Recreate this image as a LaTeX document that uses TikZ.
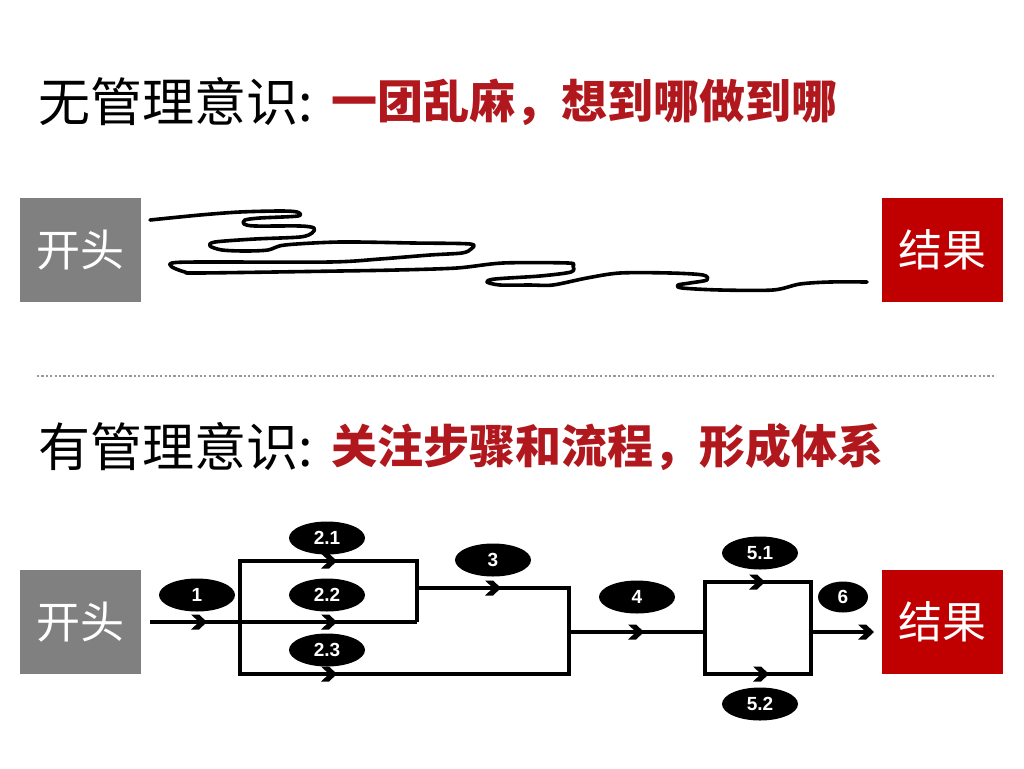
\documentclass[tikz,border=0pt]{standalone}
\usepackage{fontspec}
\setmainfont{Liberation Sans}
\newfontfamily\cjk{Noto Sans CJK SC}
\usetikzlibrary{shapes.geometric}
\definecolor{titlered}{HTML}{B0181E}
\definecolor{boxred}{HTML}{C00000}
\definecolor{boxgray}{HTML}{808080}
\tikzset{
  endbox/.style={rectangle, minimum width=121pt, minimum height=104pt, inner sep=0pt,
    text=white, font=\cjk\fontsize{44}{44}\selectfont},
  titleblack/.style={anchor=west, inner sep=0pt, text=black, font=\cjk\fontsize{52}{52}\selectfont},
  titlered/.style={anchor=west, inner sep=0pt, text=titlered, font=\cjk\bfseries\fontsize{46}{46}\selectfont},
  scribble/.style={line width=3.6pt, line cap=round, line join=round, black},
  flow/.style={line width=3.4pt, line join=miter, black},
  lab/.style={ellipse, fill=black, text=white, inner sep=0pt, minimum width=76pt,
    minimum height=33pt, font=\bfseries\fontsize{19}{19}\selectfont},
  chev/.pic={\fill[black] (1,0) -- (-7,-7.5) -- (-15,-7.5) -- (-7,0) -- (-15,7.5) -- (-7,7.5) -- cycle;}
}
\begin{document}
\begin{tikzpicture}[x=1pt,y=-1pt]
\useasboundingbox (0,0) rectangle (1024,768);
\fill[white] (0,0) rectangle (1024,768);

% ---------- top section ----------
\node[titleblack] (t1) at (38,102) {无管理意识:};
\node[titlered] (t1r) at (331,102) {一团乱麻，想到哪做到哪};

\node[endbox, fill=boxgray] (start1) at (80.5,250) {开头};
\node[endbox, fill=boxred] (end1) at (942.5,250) {结果};

\draw[scribble] plot[smooth, tension=0.5] coordinates {
(150,220) (200,215) (240,212) (280,211) (297,212) (298,216) (260,218) (245,220)
(244,224) (255,226) (300,226) (314,228) (312,233) (300,237) (255,239) (215,242)
(210,246) (222,250) (245,251) (268,250) (285,245) (340,242) (413,243) (470,244)
(471,249) (462,253) (430,255) (380,259) (330,262) (200,262) (172,263) (172,267)
(185,272) (200,273) (340,271) (397,270) (457,268) (503,263) (568,263) (573,266)
(571,272) (540,276) (495,279) (487,282) (500,285) (530,285) (553,285) (587,278)
(620,273) (670,273) (703,275) (707,280) (690,283) (678,285) (682,288) (720,290)
(773,290) (800,284) (830,282) (867,282)};

% ---------- separator ----------
\draw[gray!80, line width=1.8pt, dash pattern=on 2.2pt off 2.2pt] (37,376) -- (996,376);

% ---------- bottom section ----------
\node[titleblack] (t2) at (38,447) {有管理意识:};
\node[titlered] (t2r) at (331,447) {关注步骤和流程，形成体系};

\node[endbox, fill=boxgray] (start2) at (80.5,622) {开头};
\node[endbox, fill=boxred] (end2) at (942.5,622) {结果};

% junction coordinates
\coordinate (s) at (150,622);
\coordinate (a) at (240,622);
\coordinate (atop) at (240,561);
\coordinate (abot) at (240,674);
\coordinate (btop) at (417,561);
\coordinate (b) at (417,622);
\coordinate (bmid) at (417,588);
\coordinate (ctop) at (569,588);
\coordinate (c) at (569,632);
\coordinate (cbot) at (569,674);
\coordinate (d) at (705,632);
\coordinate (dtop) at (705,582);
\coordinate (dbot) at (705,674);
\coordinate (e) at (811,632);
\coordinate (etop) at (811,582);
\coordinate (ebot) at (811,674);
\coordinate (f) at (866,632);

\draw[flow] (s) -- (b);
\draw[flow] (a) -- (atop) -- (btop) -- (b);
\draw[flow] (a) -- (abot) -- (cbot) -- (ctop) -- (bmid);
\draw[flow] (c) -- (d);
\draw[flow] (d) -- (dtop) -- (etop) -- (ebot) -- (dbot) -- cycle;
\draw[flow] (e) -- (f);

% chevrons
\pic at (206,622) {chev};
\pic at (336,561) {chev};
\pic at (336,622) {chev};
\pic at (336,674) {chev};
\pic at (500,588) {chev};
\pic at (643,632) {chev};
\pic at (764,582) {chev};
\pic at (768,674) {chev};
\pic at (873,632) {chev};

% labels
\node[lab] (l1) at (197,595) {1};
\node[lab] (l21) at (327,538) {2.1};
\node[lab] (l22) at (327,595) {2.2};
\node[lab] (l23) at (327,650) {2.3};
\node[lab] (l3) at (493,560) {3};
\node[lab] (l4) at (637,597) {4};
\node[lab] (l51) at (760,553) {5.1};
\node[lab] (l52) at (760,704) {5.2};
\node[lab, minimum width=50pt, minimum height=31pt] (l6) at (843,597) {6};
\end{tikzpicture}
\end{document}
